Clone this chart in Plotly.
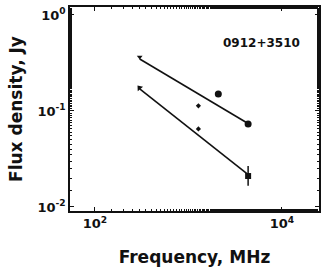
import plotly.graph_objects as go

# Data (frequency in MHz, flux density in Jy)
upper_arrow_freq = [301]
upper_arrow_flux = [0.365]
lower_arrow_freq = [299]
lower_arrow_flux = [0.174]

circle_freq = [2085, 4345]
circle_flux = [0.150, 0.073]

diamond_freq = [1277, 1277]
diamond_flux = [0.113, 0.065]

square_freq = [4345]
square_flux = [0.021]
square_err_plus = [0.0057]
square_err_minus = [0.0044]

fit_upper_freq = [301, 4250]
fit_upper_flux = [0.348, 0.075]
fit_lower_freq = [301, 4250]
fit_lower_flux = [0.170, 0.0221]

x_tick_vals = [100, 10000]
x_tick_text = ["<b>10<sup>2</sup></b>", "<b>10<sup>4</sup></b>"]
y_tick_vals = [1, 0.1, 0.01]
y_tick_text = ["<b>10<sup>0</sup></b>", "<b>10<sup>-1</sup></b>", "<b>10<sup>-2</sup></b>"]

black = "#111111"
fig = go.Figure()

fig.add_trace(go.Scatter(x=fit_upper_freq, y=fit_upper_flux, mode="lines",
                         line=dict(color=black, width=1.6), showlegend=False))
fig.add_trace(go.Scatter(x=fit_lower_freq, y=fit_lower_flux, mode="lines",
                         line=dict(color=black, width=1.6), showlegend=False))
fig.add_trace(go.Scatter(x=upper_arrow_freq, y=upper_arrow_flux, mode="markers",
                         marker=dict(symbol="triangle-down", size=5, color=black),
                         showlegend=False))
fig.add_trace(go.Scatter(x=lower_arrow_freq, y=lower_arrow_flux, mode="markers",
                         marker=dict(symbol="triangle-up", size=6, color=black, angle=-40),
                         showlegend=False))
fig.add_trace(go.Scatter(x=circle_freq, y=circle_flux, mode="markers",
                         marker=dict(symbol="circle", size=7, color=black),
                         showlegend=False))
fig.add_trace(go.Scatter(x=diamond_freq, y=diamond_flux, mode="markers",
                         marker=dict(symbol="diamond", size=4, color=black),
                         showlegend=False))
fig.add_trace(go.Scatter(x=square_freq, y=square_flux, mode="markers",
                         marker=dict(symbol="square", size=6, color=black),
                         error_y=dict(type="data", array=square_err_plus,
                                      arrayminus=square_err_minus, color=black,
                                      thickness=1.5, width=0),
                         showlegend=False))

fig.add_annotation(text="<b>0912+3510</b>", x=0.93, y=0.825, xref="paper", yref="paper",
                   xanchor="right", yanchor="middle", showarrow=False,
                   font=dict(family="DejaVu Sans", size=12, color=black))

axis_common = dict(showline=True, linecolor=black, linewidth=1.5, mirror="allticks",
                   ticks="inside", ticklen=4, tickcolor=black, showgrid=False,
                   zeroline=False, automargin=False,
                   tickfont=dict(family="DejaVu Sans", size=13, color=black),
                   minor=dict(ticks="inside", ticklen=2, tickcolor=black, showgrid=False))

fig.update_xaxes(type="log", range=[1.733, 4.396], tickvals=x_tick_vals,
                 ticktext=x_tick_text, ticklabelstandoff=0,
                 title=dict(text="<b>Frequency, MHz</b>", standoff=21,
                            font=dict(family="DejaVu Sans", size=17, color=black)),
                 **axis_common)
fig.update_yaxes(type="log", range=[-2.042, 0.083], tickvals=y_tick_vals,
                 ticktext=y_tick_text,
                 title=dict(text="<b>Flux density, Jy</b>", standoff=10,
                            font=dict(family="DejaVu Sans", size=17, color=black)),
                 **axis_common)

fig.update_layout(width=327, height=271, margin=dict(l=70, r=8, t=7, b=60),
                  paper_bgcolor="white", plot_bgcolor="white")

fig.write_html("out.html", config={"displayModeBar": False},
               post_script="document.body.style.margin='0';document.body.style.overflow='hidden';")
